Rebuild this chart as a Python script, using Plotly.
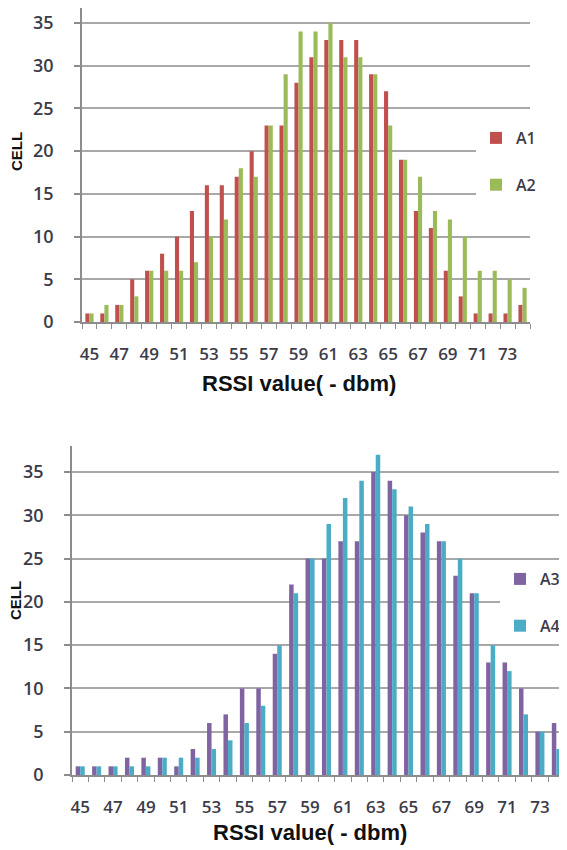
import plotly.graph_objects as go

rssi = list(range(45, 75))
a1 = [1, 1, 2, 5, 6, 8, 10, 13, 16, 16, 17, 20, 23, 23, 28, 31, 33, 33, 33, 29, 27, 19, 13, 11, 6, 3, 1, 1, 1, 2]
a2 = [1, 2, 2, 3, 6, 6, 6, 7, 10, 12, 18, 17, 23, 29, 34, 34, 35, 31, 31, 29, 23, 19, 17, 13, 12, 10, 6, 6, 5, 4]
a3 = [1, 1, 1, 2, 2, 2, 1, 3, 6, 7, 10, 10, 14, 22, 25, 25, 27, 27, 35, 34, 30, 28, 27, 23, 21, 13, 13, 10, 5, 6]
a4 = [1, 1, 1, 1, 1, 2, 2, 2, 3, 4, 6, 8, 15, 21, 25, 29, 32, 34, 37, 33, 31, 29, 27, 25, 21, 15, 12, 7, 5, 3]
tick_labels = [str(v) for v in range(45, 75, 2)]

# the page places the figure 8px in from the top-left corner of the window
W, H = 559, 842
TXT = "#3c3c48"
GRID = "#a8a8a8"
AX = "#8c8c8c"
FONT = "Open Sans"

fig = go.Figure()
fig.add_bar(x=rssi, y=a1, name="A1", marker_color="#C0504D", xaxis="x", yaxis="y",
            legend="legend", legendgroup="A1")
fig.add_bar(x=rssi, y=a2, name="A2", marker_color="#9BBB59", xaxis="x", yaxis="y",
            legend="legend", legendgroup="A2")
fig.add_bar(x=rssi, y=a3, name="A3", marker_color="#8064A2", xaxis="x2", yaxis="y2",
            legend="legend2", legendgroup="A3")
fig.add_bar(x=rssi, y=a4, name="A4", marker_color="#4BACC6", xaxis="x2", yaxis="y2",
            legend="legend2", legendgroup="A4")
fig.update_traces(marker_line_width=0)

def xax(domain, anchor, xmax):
    return dict(domain=domain, anchor=anchor, range=[44.5, xmax],
                tickmode="array", tickvals=list(range(45, 75, 2)), ticktext=tick_labels,
                ticks="", showgrid=False, showline=True, linecolor=AX, linewidth=1.5,
                zeroline=False, ticklabelstandoff=16, automargin=False,
                tickfont=dict(family=FONT, size=17, color=TXT, weight=600),
                minor=dict(tickvals=[v + 0.5 for v in range(44, 75)], ticks="outside",
                           ticklen=5, tickcolor=AX, tickwidth=1.2, showgrid=False))

def yax(domain, anchor, top):
    return dict(domain=domain, anchor=anchor, range=[0, top], dtick=5,
                ticks="outside", ticklen=6, tickcolor=AX, tickwidth=1.5,
                showgrid=True, gridcolor=GRID, gridwidth=2,
                showline=True, linecolor=AX, linewidth=1.5, zeroline=False,
                ticklabelstandoff=17, automargin=False,
                tickfont=dict(family=FONT, size=18, color=TXT, weight=600))

legend_font = dict(family=FONT, size=16, color=TXT, weight=600)
fig.update_layout(
    width=W, height=H, margin=dict(l=0, r=0, t=0, b=0),
    paper_bgcolor="white", plot_bgcolor="white",
    barmode="group", bargap=0.45, bargroupgap=0,
    xaxis=xax([74 / W, 522 / W], "y", 74.5),
    yaxis=yax([1 - 314 / H, 1.0], "x", 36.76),
    xaxis2=xax([64 / W, 1.0], "y2", 74.65),
    yaxis2=yax([1 - 767 / H, 1 - 438 / H], "x2", 38),
    legend=dict(x=468 / W, y=1 - 113 / H, xanchor="left", yanchor="top",
                bgcolor="white", borderwidth=0, traceorder="grouped", tracegroupgap=23,
                itemwidth=30, font=legend_font),
    legend2=dict(x=492 / W, y=1 - 554 / H, xanchor="left", yanchor="top",
                 bgcolor="white", borderwidth=0, traceorder="grouped", tracegroupgap=23,
                 itemwidth=30, font=legend_font),
    showlegend=True,
)

title_font = dict(family="Liberation Sans", size=22, color="#111111", weight="bold")
fig.add_annotation(text="RSSI value( - dbm)", x=291 / W, y=1 - 375 / H, xref="paper", yref="paper",
                   showarrow=False, font=title_font, xanchor="center", yanchor="middle")
fig.add_annotation(text="RSSI value( - dbm)", x=302 / W, y=1 - 824 / H, xref="paper", yref="paper",
                   showarrow=False, font=title_font, xanchor="center", yanchor="middle")
cell_font = dict(family="Liberation Sans", size=15, color="#111111", weight="bold")
fig.add_annotation(text="CELL", x=8 / W, y=1 - 144 / H, xref="paper", yref="paper",
                   showarrow=False, font=cell_font,
                   textangle=-90, xanchor="center", yanchor="middle")
fig.add_annotation(text="CELL", x=7 / W, y=1 - 593 / H, xref="paper", yref="paper",
                   showarrow=False, font=cell_font,
                   textangle=-90, xanchor="center", yanchor="middle")

fig.write_html("out.html")
